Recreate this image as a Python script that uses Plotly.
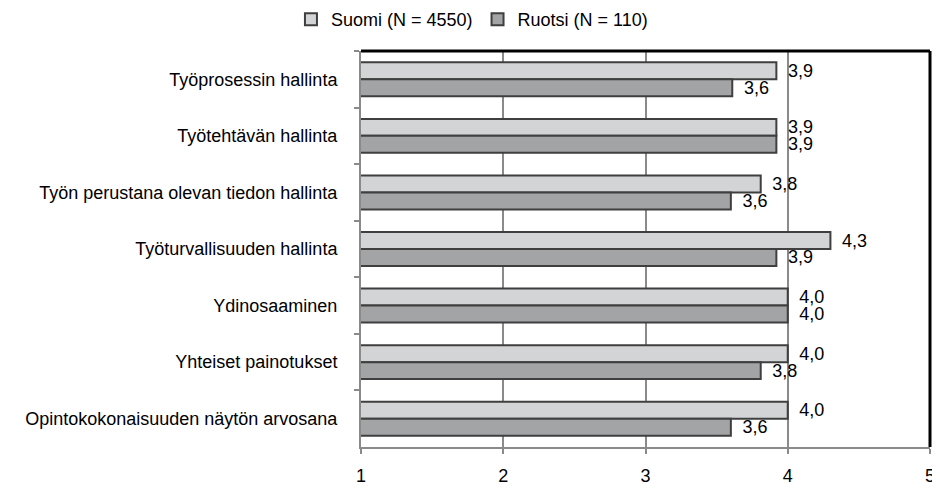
import plotly.graph_objects as go

categories = [
    "Työprosessin hallinta",
    "Työtehtävän hallinta",
    "Työn perustana olevan tiedon hallinta",
    "Työturvallisuuden hallinta",
    "Ydinosaaminen",
    "Yhteiset painotukset",
    "Opintokokonaisuuden näytön arvosana",
]
suomi = [3.92, 3.92, 3.81, 4.30, 4.00, 4.00, 4.00]
ruotsi = [3.61, 3.92, 3.60, 3.92, 4.00, 3.81, 3.60]
series_names = ["Suomi (N = 4550)", "Ruotsi (N = 110)"]
x_ticks = [1, 2, 3, 4, 5]

font = "Liberation Sans, Arial, sans-serif"

fig = go.Figure()
fig.add_trace(go.Bar(
    y=categories, x=suomi, orientation="h", name=series_names[0],
    marker=dict(color="#d3d4d6", line=dict(color="#3f3f3f", width=2)),
    texttemplate=" \u2009%{x:.1f}", textposition="outside", cliponaxis=False,
    constraintext="none",
    textfont=dict(size=18, color="#000000", family=font),
))
fig.add_trace(go.Bar(
    y=categories, x=ruotsi, orientation="h", name=series_names[1],
    marker=dict(color="#a3a4a6", line=dict(color="#3f3f3f", width=2)),
    texttemplate=" \u2009%{x:.1f}", textposition="outside", cliponaxis=False,
    constraintext="none",
    textfont=dict(size=18, color="#000000", family=font),
))

fig.update_layout(
    width=932, height=480,
    margin=dict(l=353, r=10, t=43, b=41, autoexpand=False),
    paper_bgcolor="white", plot_bgcolor="white",
    barmode="group", bargap=0.40, bargroupgap=0,
    separators=", ",
    font=dict(family=font, size=18, color="#000000"),
    legend=dict(orientation="h", traceorder="normal",
                xref="paper", yref="paper",
                x=0.195, xanchor="center", y=1.0795, yanchor="middle",
                font=dict(size=18), itemwidth=30),
    xaxis=dict(range=[1, 5], tickvals=x_ticks, showgrid=True,
               gridcolor="#8a8a8a", gridwidth=2, zeroline=False,
               showline=True, linecolor="#8a8a8a", linewidth=2,
               ticks="outside", ticklen=5, tickcolor="#8a8a8a", tickwidth=2,
               ticklabelstandoff=6, automargin=False),
    yaxis=dict(autorange="reversed", showgrid=False, zeroline=False,
               showline=True, linecolor="#8a8a8a", linewidth=2,
               ticks="outside", ticklen=5, tickcolor="#8a8a8a", tickwidth=2,
               tickson="boundaries", ticklabelstandoff=18, automargin=False),
)
fig.add_shape(type="line", xref="x domain", yref="y domain",
              x0=0, x1=1, y0=1, y1=1, line=dict(color="black", width=3))
fig.add_shape(type="line", xref="x domain", yref="y domain",
              x0=1, x1=1, y0=0, y1=1, line=dict(color="black", width=3))

fig.write_html("out.html")
